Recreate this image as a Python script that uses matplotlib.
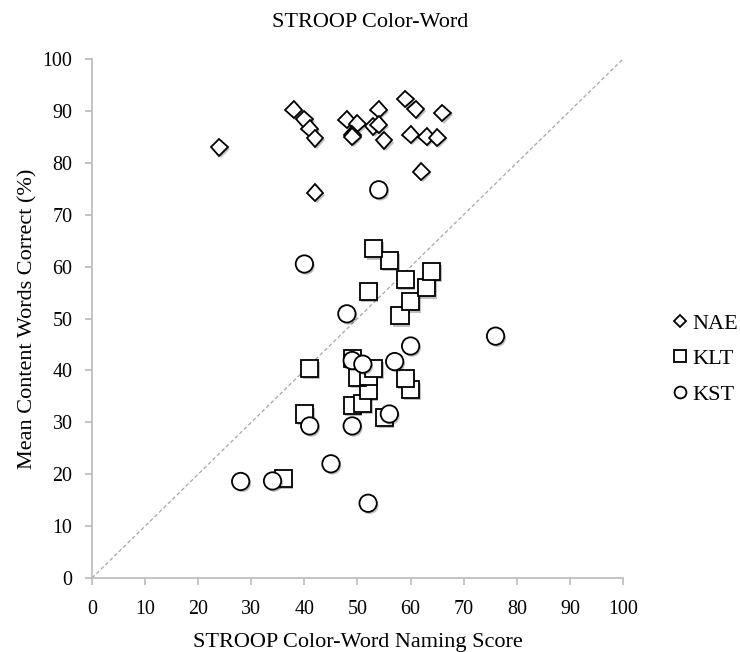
import matplotlib
matplotlib.use('Agg')
import matplotlib.pyplot as plt
import matplotlib.patheffects as pe

plt.rcParams['font.family'] = ['Liberation Serif', 'DejaVu Serif']

# NAE
nae_x = [24, 38, 40, 41, 42, 42, 48, 50, 49, 49, 54, 53, 54, 55, 59, 61, 66, 60, 63, 65, 62]
nae_y = [83.0, 90.2, 88.4, 86.6, 84.7, 74.2, 88.3, 87.5, 85.4, 85.0, 90.2, 87.0, 87.3, 84.3, 92.3, 90.3, 89.6, 85.4, 85.0, 84.8, 78.3]

# KLT
klt_x = [36, 40, 41, 49, 51, 55, 52, 60, 59, 50, 52, 49, 53, 58, 60, 52, 63, 59, 64, 56, 53]
klt_y = [19.2, 31.6, 40.4, 33.3, 33.7, 31.0, 36.2, 36.3, 38.5, 38.7, 38.9, 42.3, 40.4, 50.5, 53.2, 55.2, 55.9, 57.6, 59.0, 61.2, 63.4]

# KST
kst_x = [28, 34, 45, 52, 41, 49, 56, 49, 51, 57, 60, 76, 48, 40, 54]
kst_y = [18.6, 18.7, 22.0, 14.4, 29.3, 29.3, 31.6, 41.9, 41.2, 41.7, 44.7, 46.6, 50.9, 60.5, 74.8]

ticks = list(range(0, 101, 10))

fig = plt.figure(figsize=(7.4, 6.52), dpi=100)
ax = fig.add_axes([0.1243, 0.1135, 0.7176, 0.796])

# diagonal reference line
ax.plot([0, 100], [0, 100], color='#a6a6a6', lw=0.9, dashes=(3, 2), zorder=1)

shadow = [pe.SimplePatchShadow(offset=(1.2, -1.5), alpha=0.25, shadow_rgbFace='black'), pe.Normal()]
style = dict(ls='none', mfc='white', mec='black', mew=1.3, path_effects=shadow)
ax.plot(nae_x, nae_y, marker='D', ms=8.6, label='NAE', zorder=3, **style)
ax.plot(klt_x, klt_y, marker='s', ms=12.3, label='KLT', zorder=4, **style)
ax.plot(kst_x, kst_y, marker='o', ms=12.5, label='KST', zorder=5, **style)

ax.set_xlim(0, 100)
ax.set_ylim(0, 100)
ax.set_xticks(ticks)
ax.set_yticks(ticks)
for s in ['top', 'right']:
    ax.spines[s].set_visible(False)
for s in ['left', 'bottom']:
    ax.spines[s].set_color('#bfbfbf')
    ax.spines[s].set_linewidth(1.3)
ax.tick_params(direction='out', length=5, width=1.3, color='#bfbfbf', labelsize=14.4)
ax.tick_params(axis='x', pad=11)
ax.tick_params(axis='y', pad=9)

ax.set_xlabel('STROOP Color-Word Naming Score', fontsize=16, va='baseline')
ax.xaxis.set_label_coords(0.5, -0.1327)
ax.set_ylabel('Mean Content Words Correct (%)', fontsize=16)
ax.yaxis.set_label_coords(-0.102, 0.5)
fig.suptitle('STROOP Color-Word', x=0.5, y=1 - 27 / 652, va='baseline', fontsize=16)

leg = ax.legend(loc='center left', bbox_to_anchor=(0.91, 0.4494), bbox_transform=fig.transFigure,
                frameon=False, fontsize=16, markerscale=0.68, handlelength=0.6, handletextpad=0.25,
                labelspacing=0.68, borderpad=0, borderaxespad=0)
for h in leg.legend_handles:
    h.set_path_effects([])

fig.savefig('out.png', dpi=100)
